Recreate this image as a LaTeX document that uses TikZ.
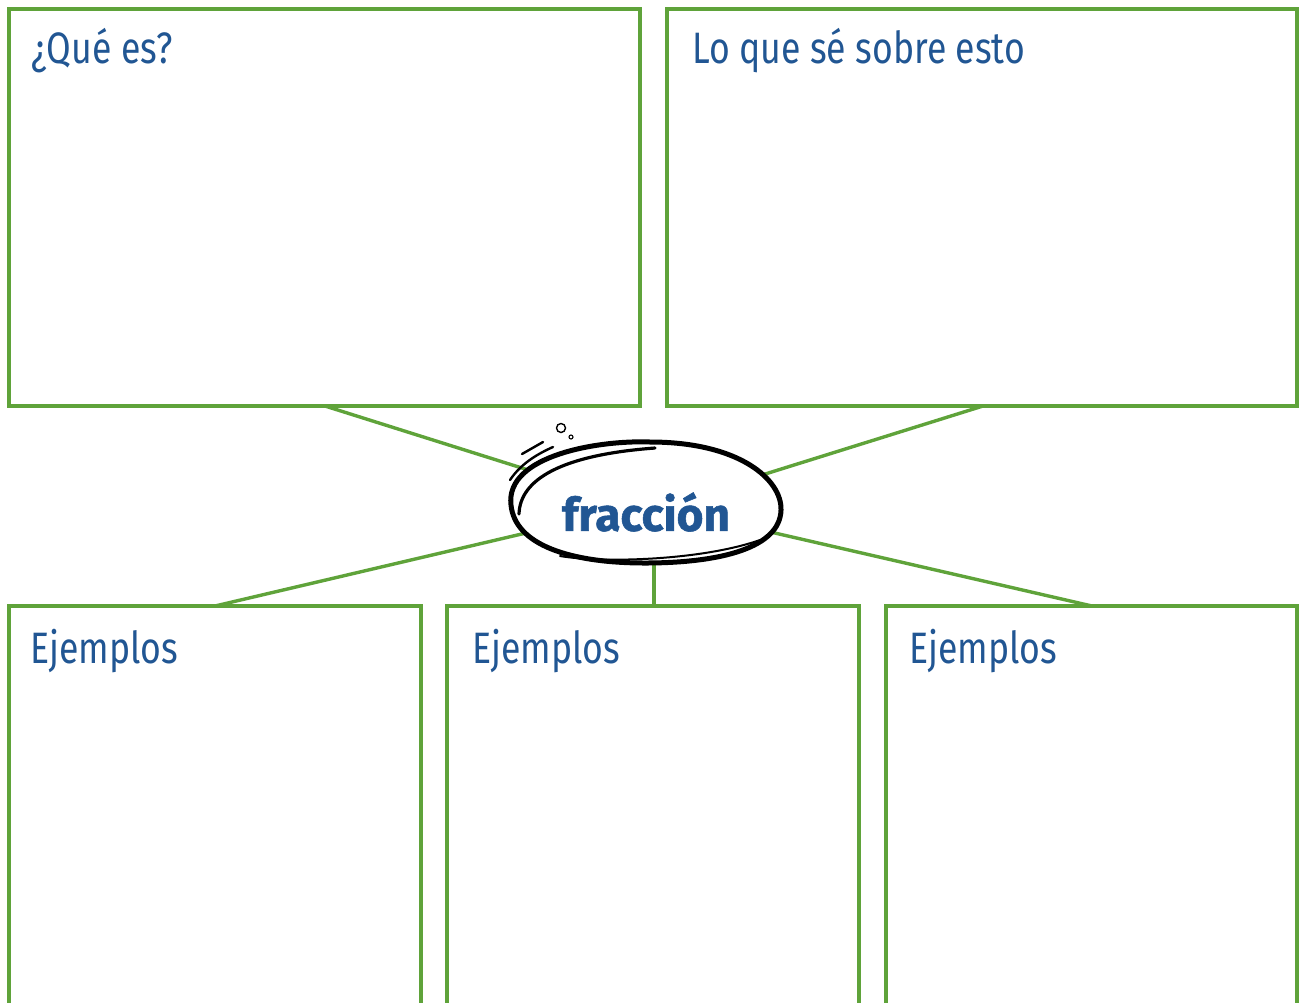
\documentclass[tikz,border=0pt]{standalone}
\usepackage{fontspec}
\setmainfont{Fira Sans}
\newfontfamily\boldfam[FakeBold=1.2]{Fira Sans}
\definecolor{boxgreen}{HTML}{5FA33A}
\definecolor{txtblue}{HTML}{215693}
\begin{document}
\begin{tikzpicture}[x=1pt,y=-1pt,
  panel/.style={draw=boxgreen,line width=3.6pt},
  link/.style={draw=boxgreen,line width=3.4pt},
  ttl/.style={anchor=base west,inner sep=0pt,text=txtblue,font=\fontsize{44}{44}\selectfont,xscale=0.81},
  sketch/.style={line width=5pt,line cap=round,line join=round}]
\useasboundingbox (0,0) rectangle (1303,1002);
% anchor coordinates
\coordinate (tlb) at (325,406);
\coordinate (trb) at (983,406);
\coordinate (blt) at (215,606);
\coordinate (bmt) at (654,606);
\coordinate (brt) at (1092,606);
\coordinate (e1) at (560,480);
\coordinate (e2) at (730,485);
\coordinate (e3) at (560,525);
\coordinate (e4) at (740,525);
\coordinate (e5) at (654,540);
% connectors
\draw[link] (tlb) -- (e1);
\draw[link] (trb) -- (e2);
\draw[link] (blt) -- (e3);
\draw[link] (brt) -- (e4);
\draw[link] (bmt) -- (e5);
% panels
\draw[panel] (9,9) rectangle (640,406);
\draw[panel] (667,9) rectangle (1297,406);
\draw[panel] (9,1010) -- (9,606) -- (421,606) -- (421,1010);
\draw[panel] (447,1010) -- (447,606) -- (859,606) -- (859,1010);
\draw[panel] (886,1010) -- (886,606) -- (1297,606) -- (1297,1010);
% titles
\node[ttl] (t1) at (31,63) {¿Qué es?};
\node[ttl] (t2) at (692,63) {Lo que sé sobre esto};
\node[ttl] (t3) at (30,663) {Ejemplos};
\node[ttl] (t4) at (472,663) {Ejemplos};
\node[ttl] (t5) at (909,663) {Ejemplos};
% sketchy ellipse
\fill[white] (511,505) .. controls (505,455) and (600,440) .. (650,442)
  .. controls (740,442) and (782,480) .. (781,510)
  .. controls (780,548) and (720,563) .. (645,563)
  .. controls (570,563) and (515,545) .. (511,505) -- cycle;
\draw[sketch] (511,505) .. controls (505,455) and (600,440) .. (650,442)
  .. controls (740,442) and (782,480) .. (781,510)
  .. controls (780,548) and (720,563) .. (645,563)
  .. controls (570,563) and (515,545) .. (511,505) -- cycle;
\draw[line width=3.2pt,line cap=round] (519,514) .. controls (520,480) and (560,455) .. (655,448);
\draw[line width=2pt,line cap=round] (560,556) .. controls (600,563) and (700,561) .. (760,540);
\draw[line width=2.4pt,line cap=round] (522,454) -- (543,442);
\draw[line width=2.4pt,line cap=round] (510,480) .. controls (520,465) and (535,455) .. (553,447);
\draw[line width=1.4pt] (561,428) circle (4.5);
\draw[line width=1.1pt] (571,437) circle (2);
\node[inner sep=0pt,text=txtblue,font=\boldfam\bfseries\fontsize{46}{46}\selectfont] (frac) at (646,512) {fracción};
\end{tikzpicture}
\end{document}
